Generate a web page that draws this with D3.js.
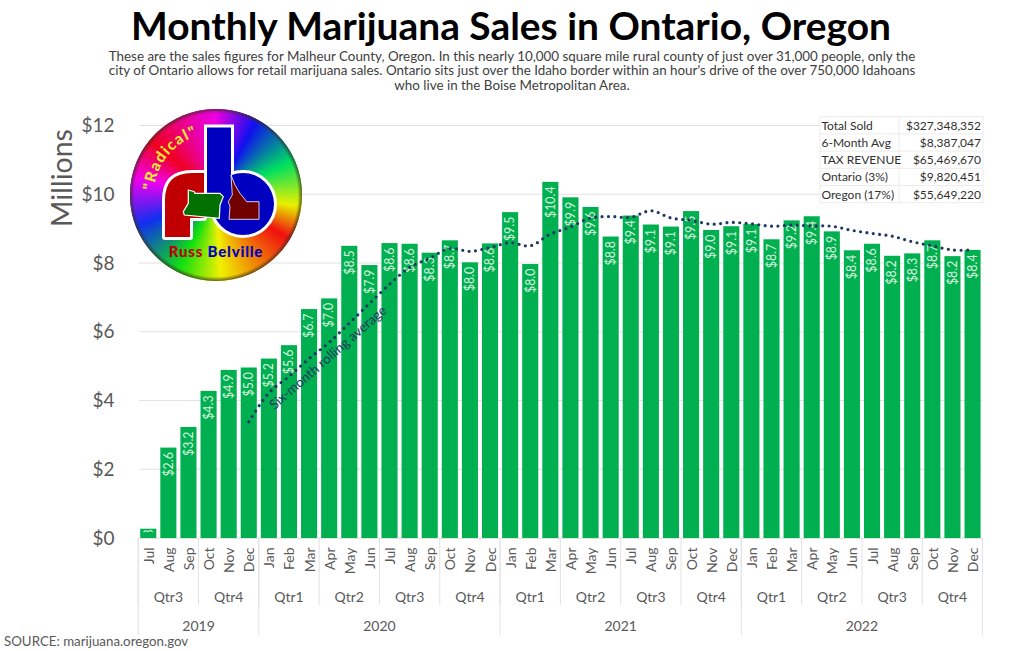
<!doctype html>
<html lang='en'>
  <head>
    <meta charset="utf-8">
    <title>Monthly Marijuana Sales in Ontario, Oregon</title>
    <script src="https://d3js.org/d3.v7.min.js"></script>
    <style>
    body { margin: 0; background: white; }
    svg { display: block; }
    text { font-family: Lato, "Open Sans", sans-serif; }
    </style>
  </head>
  <body>
    <div id='dataHolder'></div>
    <script>
    const months = ['Jul','Aug','Sep','Oct','Nov','Dec',
      'Jan','Feb','Mar','Apr','May','Jun','Jul','Aug','Sep','Oct','Nov','Dec',
      'Jan','Feb','Mar','Apr','May','Jun','Jul','Aug','Sep','Oct','Nov','Dec',
      'Jan','Feb','Mar','Apr','May','Jun','Jul','Aug','Sep','Oct','Nov','Dec'];
    const sales = [0.27,2.63,3.23,4.28,4.89,4.96,
      5.22,5.61,6.66,6.97,8.50,7.94,8.58,8.56,8.30,8.66,8.02,8.57,
      9.48,7.97,10.36,9.91,9.63,8.77,9.38,9.12,9.06,9.51,8.96,9.07,
      9.13,8.69,9.24,9.36,8.92,8.37,8.56,8.21,8.28,8.66,8.20,8.38];
    // six month average starts in Dec 2019 (index 5)
    const rollingStart = 5;
    const rolling = [3.38,4.22,4.70,5.22,5.69,6.25,6.82,7.38,7.87,8.14,8.42,8.34,8.45,
      8.59,8.50,8.84,9.05,9.31,9.35,9.33,9.52,9.31,9.24,9.13,9.18,
      9.14,9.07,9.10,9.08,9.07,8.95,8.86,8.78,8.62,8.50,8.38,8.38];
    // [label, first month index, last month index]
    const quarters = [['Qtr3',0,2],['Qtr4',3,5],
      ['Qtr1',6,8],['Qtr2',9,11],['Qtr3',12,14],['Qtr4',15,17],
      ['Qtr1',18,20],['Qtr2',21,23],['Qtr3',24,26],['Qtr4',27,29],
      ['Qtr1',30,32],['Qtr2',33,35],['Qtr3',36,38],['Qtr4',39,41]];
    const years = [['2019',0,5],['2020',6,17],['2021',18,29],['2022',30,41]];
    const yTicks = [0,2,4,6,8,10,12];
    const tableRows = [['Total Sold','$327,348,352'],['6-Month Avg','$8,387,047'],
      ['TAX REVENUE','$65,469,670'],['Ontario (3%)','$9,820,451'],['Oregon (17%)','$55,649,220']];
    const titleText = 'Monthly Marijuana Sales in Ontario, Oregon';
    const subtitle = ['These are the sales figures for Malheur County, Oregon. In this nearly 10,000 square mile rural county of just over 31,000 people, only the',
      "city of Ontario allows for retail marijuana sales. Ontario sits just over the Idaho border within an hour's drive of the over 750,000 Idahoans",
      'who live in the Boise Metropolitan Area.'];
    // logo ring: angle clockwise from top, colour
    const ringAngles = [0,29,67,98,121,177,207,249,282,310,348,360];
    const ringColors = ['#f000e0','#1010f0','#00e060','#e8f000','#f01010','#f0f000','#10e010','#1030f0','#f000f0','#f00020','#e800c0','#f000e0'];

    const wsvg = 1024, hsvg = 651;
    const gray = '#595959', lineGray = '#e2e2e2';

    const svg = d3.select('#dataHolder').append('svg')
      .attr('width', wsvg).attr('height', hsvg);

    const x = d3.scaleBand().domain(d3.range(months.length))
      .range([138.2, 982.6]).paddingInner(0.2).paddingOuter(0.1);
    const y = d3.scaleLinear().domain([0,12]).range([538,125.5]);

    // title block
    svg.append('text').attr('x',511).attr('y',39.5).attr('text-anchor','middle')
      .attr('font-size',38.9).attr('font-weight',700).attr('fill','#000').text(titleText);
    svg.selectAll('.sub').data(subtitle).enter().append('text').attr('class','sub')
      .attr('x',512).attr('y',(d,i) => 60.5 + i*14.7).attr('text-anchor','middle')
      .attr('font-size',13.4).attr('fill','#404040').text(d => d);

    // y axis
    const yAxis = d3.axisLeft(y).tickValues(yTicks).tickFormat(d => '$' + d).tickSize(0).tickPadding(0);
    const yg = svg.append('g').attr('transform','translate(114.5,0)').call(yAxis);
    yg.select('.domain').remove();
    yg.selectAll('text').attr('font-size',19).attr('fill',gray);

    svg.append('g').selectAll('line').data(yTicks.slice(1)).enter().append('line')
      .attr('x1',139).attr('x2',982).attr('y1',d => y(d)).attr('y2',d => y(d))
      .attr('stroke',lineGray).attr('stroke-width',1);

    svg.append('text').attr('transform','translate(72,178) rotate(-90)')
      .attr('text-anchor','middle').attr('font-size',28.5).attr('fill',gray).text('Millions');

    // bars
    svg.append('g').selectAll('rect').data(sales).enter().append('rect')
      .attr('x',(d,i) => x(i)).attr('y',d => y(d))
      .attr('width',x.bandwidth()).attr('height',d => y(0)-y(d))
      .attr('fill','#00b050');

    // value labels stay inside the bar, the first one only shows a sliver
    svg.append('clipPath').attr('id','firstBar').append('rect')
      .attr('x',x(0)).attr('y',y(sales[0])).attr('width',x.bandwidth()).attr('height',3.5);
    svg.append('g').selectAll('g').data(sales).enter().append('g')
      .attr('clip-path',(d,i) => i == 0 ? 'url(#firstBar)' : null)
      .append('text')
      .attr('transform',(d,i) => 'translate(' + (x(i)+x.bandwidth()/2+4.3) + ',' + (y(d)+(i == 0 ? 0.5 : 4.5)) + ') rotate(-90)')
      .attr('text-anchor','end').attr('font-size',12.4).attr('fill','#d8f0de')
      .text(d => '$' + d.toFixed(1));

    // rolling average
    const line = d3.line()
      .x((d,i) => x(i+rollingStart)+x.bandwidth()/2).y(d => y(d))
      .curve(d3.curveCatmullRom.alpha(0.5));
    svg.append('path').attr('d',line(rolling)).attr('fill','none')
      .attr('stroke','#1f3864').attr('stroke-width',3.2)
      .attr('stroke-linecap','round').attr('stroke-dasharray','0 6.4');
    svg.append('text').attr('transform','translate(331,361) rotate(-41)')
      .attr('text-anchor','middle').attr('font-size',13.5).attr('fill','#1f3864')
      .text('Six-month rolling average');

    // bottom axis with three levels
    const xAxis = d3.axisBottom(x).tickFormat(i => months[i]).tickSize(0).tickPadding(0);
    const xg = svg.append('g').attr('transform','translate(0,538)').call(xAxis);
    xg.select('.domain').attr('stroke',lineGray);
    xg.selectAll('text')
      .attr('transform','translate(5.5,9.5) rotate(-90)')
      .attr('y',0).attr('dy',0).attr('x',0)
      .attr('text-anchor','end').attr('font-size',14).attr('fill',gray);

    const edge = i => x(i) - x.step()*x.paddingInner()/2 ;
    const groupEnd = i => i == months.length-1 ? 982.4 : edge(i+1);
    svg.append('g').selectAll('line').data(quarters).enter().append('line')
      .attr('x1',d => edge(d[1])).attr('x2',d => edge(d[1]))
      .attr('y1',538).attr('y2',605).attr('stroke',lineGray);
    svg.append('g').selectAll('line').data(years.concat([['',42,42]])).enter().append('line')
      .attr('x1',d => d[1] == 42 ? 982.4 : edge(d[1])).attr('x2',d => d[1] == 42 ? 982.4 : edge(d[1]))
      .attr('y1',538).attr('y2',635).attr('stroke',lineGray);
    svg.append('g').selectAll('text').data(quarters).enter().append('text')
      .attr('x',d => (edge(d[1])+groupEnd(d[2]))/2).attr('y',602)
      .attr('text-anchor','middle').attr('font-size',14).attr('fill',gray).text(d => d[0]);
    svg.append('g').selectAll('text').data(years).enter().append('text')
      .attr('x',d => (edge(d[1])+groupEnd(d[2]))/2).attr('y',631)
      .attr('text-anchor','middle').attr('font-size',14).attr('fill',gray).text(d => d[0]);

    svg.append('text').attr('x',4).attr('y',646).attr('font-size',13.3).attr('fill',gray)
      .text('SOURCE: marijuana.oregon.gov');

    // summary table
    const rowH = 17.2, tableX = 820, tableMid = 899, tableR = 983, tableY = 116.7;
    const table = svg.append('g');
    table.append('rect').attr('x',tableX).attr('y',tableY).attr('width',tableR-tableX).attr('height',rowH*5)
      .attr('fill','white').attr('stroke','#ececec');
    table.selectAll('.rowline').data(d3.range(1,5)).enter().append('line').attr('class','rowline')
      .attr('x1',tableX).attr('x2',tableR).attr('y1',i => tableY+i*rowH).attr('y2',i => tableY+i*rowH)
      .attr('stroke','#ececec');
    table.append('line').attr('x1',tableMid).attr('x2',tableMid).attr('y1',tableY).attr('y2',tableY+rowH*5).attr('stroke','#ececec');
    table.selectAll('.rowname').data(tableRows).enter().append('text').attr('class','rowname')
      .attr('x',821.5).attr('y',(d,i) => tableY+13+i*rowH).attr('font-size',12).attr('fill','#303030').text(d => d[0]);
    table.selectAll('.rowval').data(tableRows).enter().append('text').attr('class','rowval')
      .attr('x',981).attr('y',(d,i) => tableY+13+i*rowH).attr('text-anchor','end').attr('font-size',12).attr('fill','#303030').text(d => d[1]);

    // logo
    const logo = svg.append('g').attr('transform','translate(216,195)');
    const ringColor = d3.scaleLinear().domain(ringAngles).range(ringColors);
    const wedge = d3.arc().innerRadius(0).outerRadius(86);
    logo.selectAll('path').data(d3.range(0,360,1)).enter().append('path')
      .attr('d',a => wedge({startAngle:(a-0.5)*Math.PI/180, endAngle:(a+1.5)*Math.PI/180}))
      .attr('fill',a => ringColor(a+0.5));
    const shade = svg.append('radialGradient').attr('id','ringShade');
    shade.append('stop').attr('offset','0.95').attr('stop-color','#3a3020').attr('stop-opacity',0);
    shade.append('stop').attr('offset','1').attr('stop-color','#3a3020').attr('stop-opacity',0.75);
    logo.append('circle').attr('r',86).attr('fill','url(#ringShade)');

    const inner = svg.append('g');
    inner.append('path').attr('d','M165 237 V200 Q165 173 192 173 H204 V218 H190 V237 Z')
      .attr('fill','#c00000').attr('stroke','white').attr('stroke-width',6).attr('stroke-linejoin','round').attr('paint-order','stroke');
    inner.append('path').attr('d','M207 127.5 H231 V204 H207 Z M212 204 A31 31 0 1 1 274 204 A31 31 0 1 1 212 204 Z')
      .attr('fill','#0000c0').attr('stroke','white').attr('stroke-width',6).attr('paint-order','stroke');
    inner.append('path').attr('d','M188.3 190 L194.3 191.7 L195 193.3 L220 193.3 L223.3 196.7 L220 205 L219.3 218.3 L184.3 215 L183.3 211.7 L188.3 203.3 Z')
      .attr('fill','#007000').attr('stroke','white').attr('stroke-width',1.2);
    inner.append('path').attr('d','M231 175 L235 185 L240 193.3 L246.7 201.7 L259 201.7 L259 219.3 L229 219.3 L230 206.7 L228.3 201.7 L232.3 195 Z')
      .attr('fill','#700000').attr('stroke','white').attr('stroke-width',0.8);

    logo.append('path').attr('id','radicalArc').attr('d','M-62 6 A62 62 0 0 1 -8 -61.5').attr('fill','none');
    logo.append('text').attr('font-size',15.5).attr('font-weight',900).attr('fill','#f4e832')
      .attr('letter-spacing',1.3)
      .append('textPath').attr('href','#radicalArc').attr('startOffset','50%').attr('text-anchor','middle')
      .text('"Radical"');
    const name = svg.append('text').attr('x',216).attr('y',257).attr('text-anchor','middle')
      .attr('font-size',15).attr('font-weight',900).attr('letter-spacing',0.8);
    name.append('tspan').attr('fill','#c00000').text('Russ ');
    name.append('tspan').attr('fill','#0000c0').text('Belville');
    </script>
  </body>
</html>
